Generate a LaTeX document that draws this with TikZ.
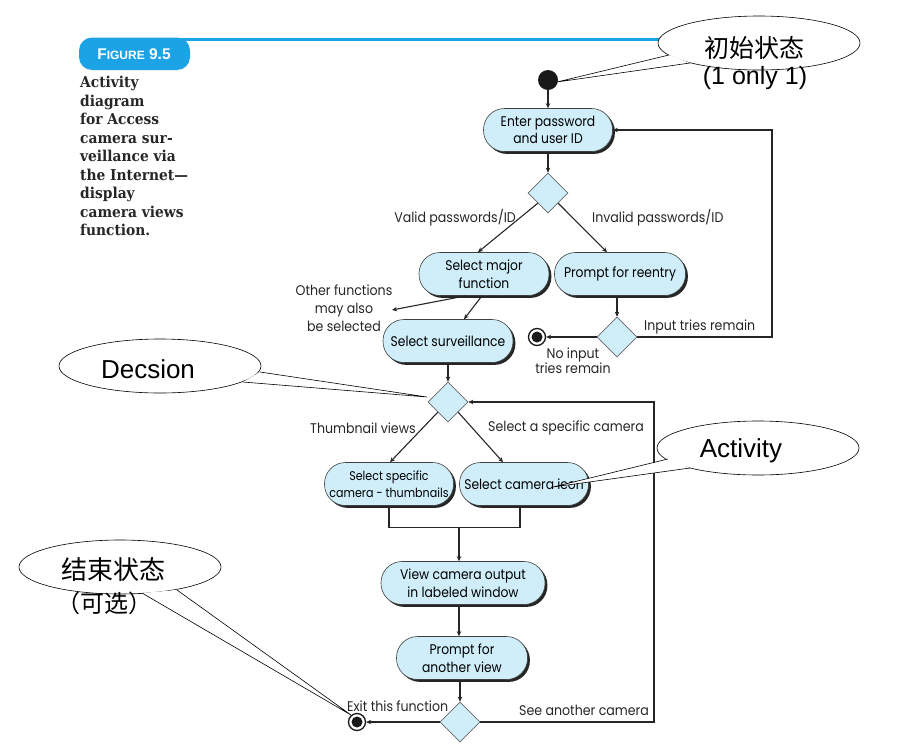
\documentclass[tikz,border=0pt]{standalone}
\usepackage{fontspec}
\setmainfont{Liberation Sans}
\newfontfamily\nodefont{Poppins}[FakeStretch=0.88]
\newfontfamily\lblfont{Poppins}[FakeStretch=0.9]
\newfontfamily\capfont{DejaVu Serif}[FakeStretch=0.92]
\newfontfamily\cjk{Noto Sans CJK SC}
\usetikzlibrary{shapes.geometric, arrows.meta, shadows, calc}
\definecolor{nodeblue}{RGB}{207,238,250}
\definecolor{figblue}{RGB}{27,163,230}
\tikzset{
  act/.style={rectangle, rounded corners=21pt, draw=black!75, line width=0.6pt, fill=nodeblue,
    align=center, inner sep=0pt, minimum height=43pt,
    font=\nodefont\fontsize{14}{17.5}\selectfont,
    drop shadow={shadow xshift=2.4pt, shadow yshift=-2.4pt, opacity=1, fill=black!85}},
  dec/.style={diamond, draw=black!60, line width=0.6pt, fill=nodeblue, inner sep=0pt,
    minimum width=40pt, minimum height=40pt},
  startst/.style={circle, fill=black!90, minimum size=20pt, inner sep=0pt},
  endst/.style={circle, draw=black!90, line width=1.3pt, fill=white, minimum size=17pt, inner sep=0pt,
    path picture={\fill[black!90] (path picture bounding box.center) circle (5.5pt);}},
  flow/.style={draw=black!85, line width=1.1pt, -{Stealth[length=5pt,width=4.5pt]}},
  plainln/.style={draw=black!85, line width=1.1pt},
  lbl/.style={font=\lblfont\fontsize{14}{18}\selectfont, inner sep=0pt, text=black!85},
  callout/.style={ellipse, draw=black, line width=0.6pt, fill=white, minimum width=202pt,
    minimum height=54pt, inner sep=0pt},
  tailfill/.style={fill=white},
  tailline/.style={draw=black, line width=0.6pt},
}
\begin{document}
\begin{tikzpicture}[x=1pt, y=-1pt]
\useasboundingbox (0,0) rectangle (897,747);
% figure header
\draw[figblue, line width=3pt] (180,39) -- (700,39);
\fill[figblue, rounded corners=13pt] (79,37.5) rectangle (190,70);
\node[text=white, font=\bfseries, inner sep=0pt] (figlbl) at (134,54)
  {\fontsize{15.5}{15}\selectfont F{\fontsize{12}{11}\selectfont IGURE} 9.5};
\node[anchor=north west, align=left, inner sep=0pt, text=black!85,
  font=\capfont\bfseries\fontsize{15}{18.5}\selectfont] (caption) at (80,76)
  {Activity\\diagram\\for Access\\camera sur-\\veillance via\\the Internet—\\display\\camera views\\function.};

% nodes
\node[startst] (start) at (548,80) {};
\node[act, minimum width=129pt] (enter) at (548,130) {Enter password\\and user ID};
\node[dec] (d1) at (548,193) {};
\node[act, minimum width=130pt] (major) at (484,274) {Select major\\function};
\node[act, minimum width=131pt] (reentry) at (620,274) {Prompt for reentry};
\node[dec] (d2) at (617,337) {};
\node[endst] (end1) at (537,337) {};
\node[act, minimum width=130pt] (surv) at (448,341) {Select surveillance};
\node[dec] (d3) at (448,402) {};
\node[act, minimum width=129pt, font=\nodefont\fontsize{12.6}{17.5}\selectfont] (thumbs) at (389,484) {Select specific\\camera - thumbnails};
\node[act, minimum width=129pt] (icon) at (524,484) {Select camera icon};
\node[act, minimum width=164pt] (view) at (463,583) {View camera output\\in labeled window};
\node[act, minimum width=131pt] (another) at (462,658) {Prompt for\\another view};
\node[dec] (d4) at (460,722) {};
\node[endst] (end2) at (357,722) {};

% connectors
\draw[flow] (start) -- (enter);
\draw[flow] (enter) -- (d1);
\draw[flow] (d1.south west) -- ($(major.north)+(-6,0)$);
\draw[flow] (d1.south east) -- ($(reentry.north)+(-13,0)$);
\draw[flow] (reentry.south -| d2.north) -- (d2.north);
\draw[flow] (d2.west) -- (end1);
\coordinate (loop1) at (772,130);
\draw[flow] (d2.east) -| (loop1) -- (enter.east);
\coordinate (otherend) at (392,310);
\draw[flow] ($(major.south)+(-18,0)$) -- (otherend);
\draw[flow] ($(major.south)+(-2,0)$) -- ($(surv.north)+(16,0)$);
\draw[flow] (surv) -- (d3);
\draw[flow] (d3.south west) -- ($(thumbs.north)+(1,0)$);
\draw[flow] (d3.south east) -- ($(icon.north)+(-21,0)$);
\draw[plainln] (thumbs.south) |- ($(icon.south)+(-4,22)$) -- ($(icon.south)+(-4,0)$);
\draw[flow] ($(view.north)+(-4,-34)$) -- ($(view.north)+(-4,0)$);
\draw[flow] ($(view.south)+(-4,0)$) -- ($(another.north)+(-3,0)$);
\draw[flow] ($(another.south)+(-2,0)$) -- (d4);
\draw[flow] (d4.west) -- (end2);
\coordinate (loop2) at (654,402);
\draw[flow] (d4.east) -| (loop2) -- (d3.east);

% labels
\node[lbl, anchor=east] (lvalid) at (516,218) {Valid passwords/ID};
\node[lbl, anchor=west] (linvalid) at (592,218) {Invalid passwords/ID};
\node[lbl, align=center] (lother) at (344,308) {Other functions\\may also\\be selected};
\node[lbl, anchor=west] (linput) at (644,327) {Input tries remain};
\node[lbl, align=center, font=\lblfont\fontsize{14}{11.5}\selectfont] (lnoinput) at (573,361) {No input\\tries remain};
\node[lbl, anchor=west] (lthumb) at (310,428) {Thumbnail views};
\node[lbl, anchor=west] (lselcam) at (488,428) {Select a specific camera};
\node[lbl, anchor=west] (lexit) at (347,706) {Exit this function};
\node[lbl, anchor=west] (lsee) at (519,710) {See another camera};

% callouts
\node[callout] (c1) at (759,43) {};
\coordinate (c1a) at (669,55); \coordinate (c1b) at (690,63); \coordinate (c1tip) at (557,82);
\fill[tailfill] (c1a) -- (c1tip) -- (c1b) -- cycle;
\draw[tailline] (c1a) -- (c1tip) -- (c1b);
\node[font=\cjk\fontsize{25}{25}\selectfont, inner sep=0pt] (c1t) at (754,48) {初始状态};
\node[font=\fontsize{25}{25}\selectfont, inner sep=0pt] (c1u) at (755,78) {(1 only 1)};

\node[callout] (c2) at (160,366) {};
\coordinate (c2a) at (260,372); \coordinate (c2b) at (243,382); \coordinate (c2tip) at (427,397);
\fill[tailfill] (c2a) -- (c2tip) -- (c2b) -- cycle;
\draw[tailline] (c2a) -- (c2tip) -- (c2b);
\node[font=\fontsize{26}{26}\selectfont, inner sep=0pt] (c2t) at (148,369) {Decsion};

\node[callout] (c3) at (758,448) {};
\coordinate (c3a) at (668,459); \coordinate (c3b) at (690,468); \coordinate (c3tip) at (553,487);
\fill[tailfill] (c3a) -- (c3tip) -- (c3b) -- cycle;
\draw[tailline] (c3a) -- (c3tip) -- (c3b);
\node[font=\fontsize{26}{26}\selectfont, inner sep=0pt] (c3t) at (741,451) {Activity};

\node[callout] (c4) at (120,567) {};
\coordinate (c4a) at (142,593); \coordinate (c4b) at (177,590); \coordinate (c4tip) at (351,715);
\fill[tailfill] (c4a) -- (c4tip) -- (c4b) -- cycle;
\draw[tailline] (c4a) -- (c4tip) -- (c4b);
\node[font=\cjk\fontsize{26}{26}\selectfont, inner sep=0pt] (c4t) at (113,570) {结束状态};
\node[font=\cjk\fontsize{24}{24}\selectfont, inner sep=0pt, anchor=west] (c4u) at (56,603) {（可选）};
\end{tikzpicture}
\end{document}
